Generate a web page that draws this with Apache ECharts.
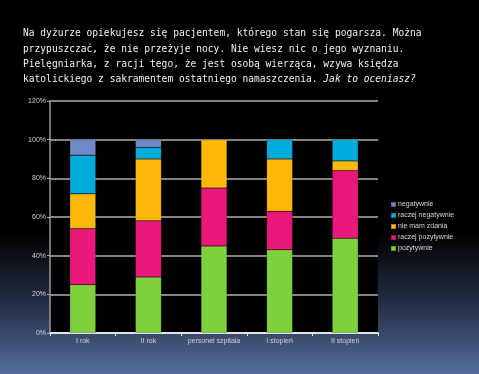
<!DOCTYPE html>
<html><head><meta charset="utf-8">
<script src="https://cdn.jsdelivr.net/npm/echarts@6/dist/echarts.min.js"></script>
<style>html,body{margin:0;padding:0;background:#000}#c{width:479px;height:374px}</style>
</head><body><div id="c"></div>
<script>
const categories = ['I rok', 'II rok', 'personel szpitala', 'I stopień', 'II stopień'];
const seriesNames = ['pozytywnie', 'raczej pozytywnie', 'nie mam zdania', 'raczej negatywnie', 'negatywnie'];
const pozytywnie = [25, 29, 45, 43, 49];
const raczejPozytywnie = [29, 29, 30, 20, 35];
const nieMamZdania = [18, 32, 25, 27, 5];
const raczejNegatywnie = [20, 6, 0, 10, 11];
const negatywnie = [8, 4, 0, 0, 0];
const yTicks = [0, 20, 40, 60, 80, 100, 120];
const colors = ['#7ed13c', '#e8197b', '#feb80a', '#00acdb', '#7189c6'];
const values = [pozytywnie, raczejPozytywnie, nieMamZdania, raczejNegatywnie, negatywnie];

const chart = echarts.init(document.getElementById('c'));
chart.setOption({
  animation: false,
  backgroundColor: {
    type: 'linear', x: 0, y: 0, x2: 0, y2: 1,
    colorStops: [
      {offset: 0, color: '#000000'},
      {offset: 0.62, color: '#000000'},
      {offset: 0.8, color: '#222b40'},
      {offset: 1, color: '#546c9c'}
    ]
  },
  title: {
    left: 23, top: 26, padding: 0,
    text: 'Na dyżurze opiekujesz się pacjentem, którego stan się pogarsza. Można\nprzypuszczać, że nie przeżyje nocy. Nie wiesz nic o jego wyznaniu.\nPielęgniarka, z racji tego, że jest osobą wierząca, wzywa księdza\nkatolickiego z sakramentem ostatniego namaszczenia. {i|Jak to oceniasz?}',
    textStyle: {
      color: '#f0f0f0', fontFamily: 'DejaVu Sans Mono', fontSize: 9.6, fontWeight: 'normal', lineHeight: 15.4,
      rich: { i: { fontStyle: 'italic', color: '#f0f0f0', fontFamily: 'DejaVu Sans Mono', fontSize: 9.6, lineHeight: 15.4 } }
    }
  },
  legend: {
    orient: 'vertical', left: 385, top: 196,
    data: seriesNames.slice().reverse(),
    itemWidth: 5, itemHeight: 5, itemGap: 4, icon: 'rect',
    textStyle: { color: '#d8d8d8', fontSize: 7, fontFamily: 'Liberation Sans', padding: [0, 0, 0, -3] }
  },
  grid: { left: 50, right: 101, top: 101, bottom: 41, backgroundColor: '#000', show: true, borderWidth: 0 },
  xAxis: {
    type: 'category', data: categories,
    axisLine: { lineStyle: { color: '#ffffff', width: 1.5 } },
    axisTick: { show: true, length: 3, lineStyle: { color: '#ffffff' } },
    axisLabel: { color: '#d0d0d0', fontSize: 7, fontFamily: 'Liberation Sans', margin: 5, interval: 0 }
  },
  yAxis: {
    type: 'value', min: 0, max: 120, interval: 20,
    axisLine: { show: true, lineStyle: { color: '#9a9a9a', width: 1.5 } },
    axisTick: { show: true, length: 3, lineStyle: { color: '#b0b0b0' } },
    splitLine: { lineStyle: { color: '#b0b0b0', width: 1.5 } },
    axisLabel: { color: '#d0d0d0', fontSize: 7, fontFamily: 'Liberation Sans', margin: 4,
      formatter: v => yTicks.includes(v) ? v + '%' : '' }
  },
  series: seriesNames.map((n, i) => ({
    name: n, type: 'bar', stack: 'all', barWidth: 26,
    data: values[i].map(v => v === 0 ? null : v),
    itemStyle: { color: colors[i], borderColor: 'rgba(0,0,0,0.25)', borderWidth: 0.5 }
  }))
});
</script></body></html>
